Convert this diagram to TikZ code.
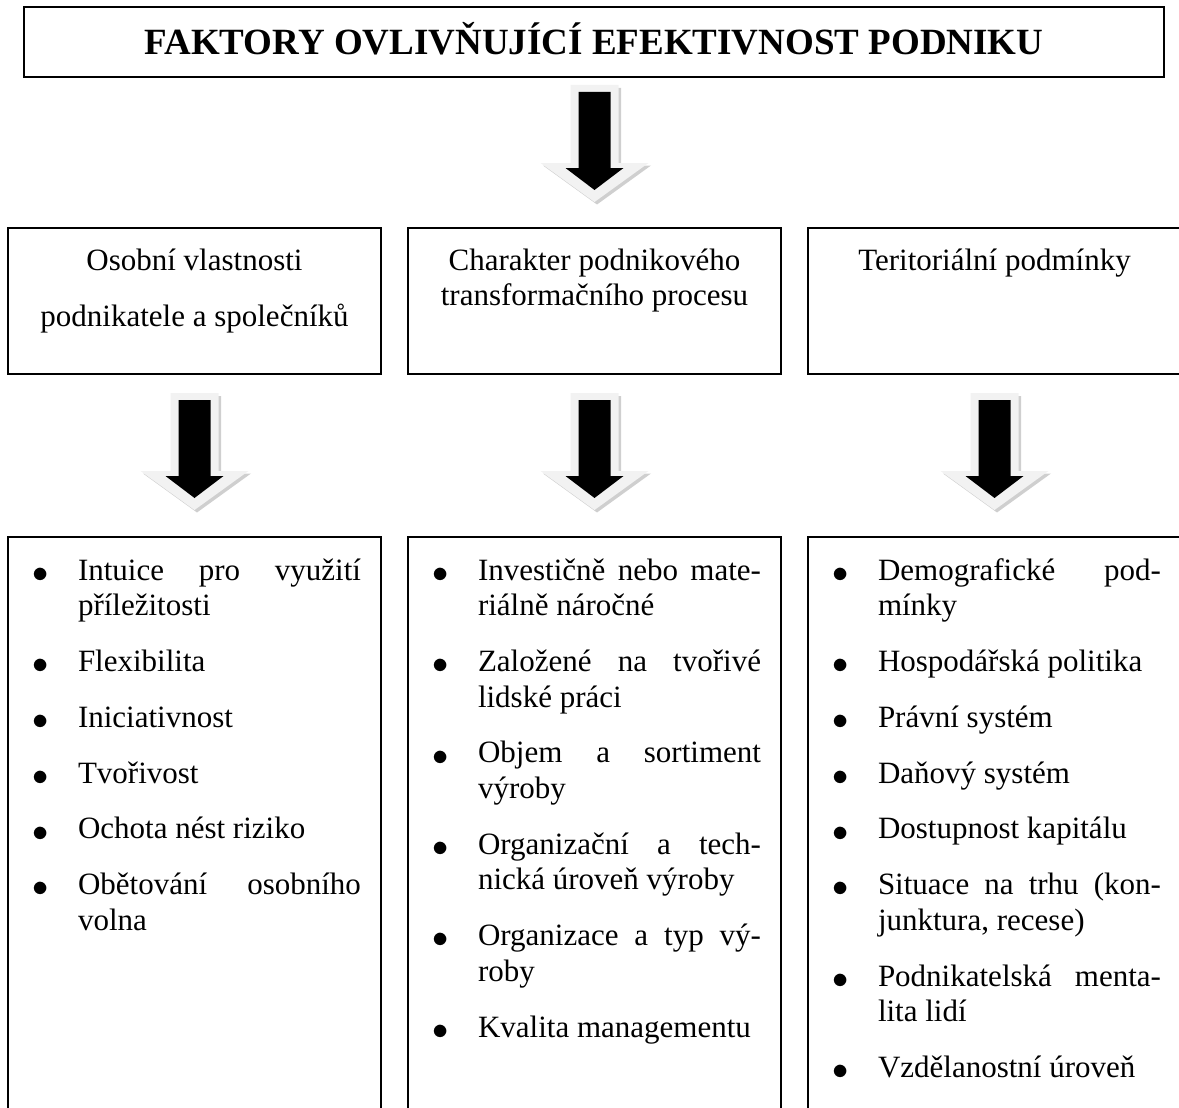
\documentclass[tikz,border=0pt]{standalone}
\usepackage{fontspec}
\setmainfont{Liberation Serif}
\usetikzlibrary{calc}

% block arrow with a light bevel rim and a soft shadow
\tikzset{
  blockarrow/.pic={
    \fill[gray!38] (-21.5,3) -- (26.5,3) -- (26.5,80.5) -- (56.5,80.5) -- (2.5,119.5) -- (-51.5,80.5) -- (-21.5,80.5) -- cycle;
    \fill[gray!10] (-24,0) -- (24,0) -- (24,78) -- (54,78) -- (0,117) -- (-54,78) -- (-24,78) -- cycle;
    \fill[black] (-16,7) -- (16,7) -- (16,83) -- (29,83) -- (0,105) -- (-29,83) -- (-16,83) -- cycle;
  },
  box/.style={draw=black, line width=1.8pt, rectangle, inner sep=0pt, outer sep=0pt,
    minimum width=373pt, anchor=north west},
  txt/.style={inner sep=0pt, outer sep=0pt, font=\fontsize{31}{35.6}\selectfont},
}
\newcommand\bul{\leavevmode\llap{\makebox[46pt][l]{\raisebox{-2.2pt}{\scalebox{1.3}{$\bullet$}}}}}
\newcommand\jline[1]{\makebox[283pt][s]{#1}}
\newcommand\isep{20.2pt}

\begin{document}
\begin{tikzpicture}[x=1pt, y=-1pt]
  \useasboundingbox (0,0) rectangle (1179,1108);
  \clip (0,0) rectangle (1179,1108);

  % heading
  \node[draw=black, line width=1.8pt, inner sep=0pt, outer sep=0pt,
        minimum width=1140pt, minimum height=70pt, anchor=north west] (title) at (24,7) {};
  \node[inner sep=0pt, anchor=base, font=\bfseries\fontsize{37}{44}\selectfont] (titletext)
    at ($(title.north)+(0,48)$) {FAKTORY OVLIVŇUJÍCÍ EFEKTIVNOST PODNIKU};

  % three factor groups
  \node[box, minimum height=146pt] (lbox) at (8,228) {};
  \node[box, minimum height=146pt] (mbox) at (408,228) {};
  \node[box, minimum height=146pt] (rbox) at (808,228) {};

  \node[txt, anchor=base] (ltext) at ($(lbox.north)+(0,42)$)
    {\parbox[t]{373pt}{\centering Osobní vlastnosti\\[20.4pt] podnikatele a společníků}};
  \node[txt, anchor=base] (mtext) at ($(mbox.north)+(0,42)$)
    {\parbox[t]{373pt}{\centering Charakter podnikového\\ transformačního procesu}};
  \node[txt, anchor=base] (rtext) at ($(rbox.north)+(0,42)$)
    {\parbox[t]{373pt}{\centering Teritoriální podmínky}};

  % detail boxes (open towards the bottom of the page)
  \node[box, minimum height=620pt] (lbot) at (8,537) {};
  \node[box, minimum height=620pt] (mbot) at (408,537) {};
  \node[box, minimum height=620pt] (rbot) at (808,537) {};

  \node[txt, anchor=base west] (llist) at ($(lbot.north west)+(70,43)$)
    {\parbox[t]{283pt}{%
      \bul\jline{Intuice pro využití}\\
      příležitosti\\[\isep]
      \bul Flexibilita\\[\isep]
      \bul Iniciativnost\\[\isep]
      \bul Tvořivost\\[\isep]
      \bul Ochota nést riziko\\[\isep]
      \bul\jline{Obětování osobního}\\
      volna}};

  \node[txt, anchor=base west] (mlist) at ($(mbot.north west)+(70,43)$)
    {\parbox[t]{283pt}{%
      \bul\jline{Investičně nebo mate-}\\
      riálně náročné\\[\isep]
      \bul\jline{Založené na tvořivé}\\
      lidské práci\\[\isep]
      \bul\jline{Objem a sortiment}\\
      výroby\\[\isep]
      \bul\jline{Organizační a tech-}\\
      nická úroveň výroby\\[\isep]
      \bul\jline{Organizace a typ vý-}\\
      roby\\[\isep]
      \bul Kvalita managementu}};

  \node[txt, anchor=base west] (rlist) at ($(rbot.north west)+(70,43)$)
    {\parbox[t]{283pt}{%
      \bul\jline{Demografické pod-}\\
      mínky\\[\isep]
      \bul Hospodářská politika\\[\isep]
      \bul Právní systém\\[\isep]
      \bul Daňový systém\\[\isep]
      \bul Dostupnost kapitálu\\[\isep]
      \bul\jline{Situace na trhu (kon-}\\
      junktura, recese)\\[\isep]
      \bul\jline{Podnikatelská menta-}\\
      lita lidí\\[\isep]
      \bul Vzdělanostní úroveň}};

  % block arrows between the levels
  \pic at ($(title.south -| mbox.north)+(0,8)$) {blockarrow};
  \pic at ($(lbox.south)+(0,19)$) {blockarrow};
  \pic at ($(mbox.south)+(0,19)$) {blockarrow};
  \pic at ($(rbox.south)+(0,19)$) {blockarrow};
\end{tikzpicture}
\end{document}
